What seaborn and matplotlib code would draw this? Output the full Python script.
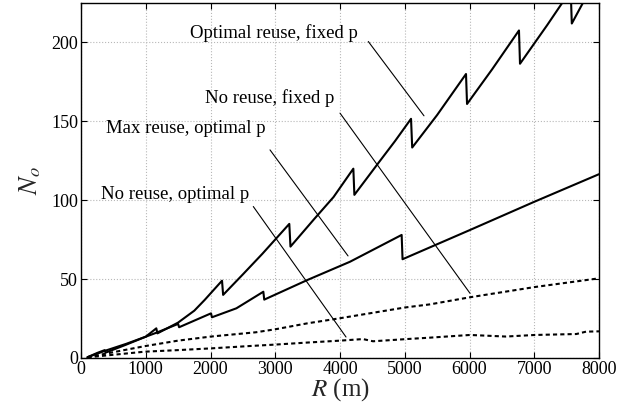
import numpy as np
import pandas as pd
import matplotlib
matplotlib.use("Agg")
import matplotlib.pyplot as plt
import seaborn as sns

# ---- data ----
r_opt_fixed = [100, 250, 366, 380, 700, 1000, 1163, 1180, 1498, 1750, 1910, 2178, 2195,
               2500, 2800, 3217, 3235, 3600, 3900, 4206, 4222, 4600, 4850, 5097, 5115,
               5500, 5946, 5962, 6350, 6764, 6780, 7200, 7563, 7580, 8000]
n_opt_fixed = [0.5, 3.2, 5.0, 3.4, 8.5, 13.5, 18.8, 15.6, 22.4, 30, 36.8, 49, 40,
               53, 66, 85, 70.6, 88, 102, 120, 103.4, 124, 137.5, 151.6, 133.4,
               154, 180, 161, 183, 207.6, 186.5, 211, 233, 212, 244]

r_max_opt = [100, 366, 700, 1000, 1163, 1500, 1515, 2008, 2022, 2400, 2816, 2830,
             3500, 4154, 4952, 4966, 6000, 7000, 8000]
n_max_opt = [0.5, 4.5, 9, 13.5, 16, 21.6, 19.5, 28.3, 25.8, 31.5, 42, 37,
             49.5, 61, 78, 62.6, 81, 99, 116.5]

r_no_fixed = [100, 463, 983, 1498, 2008, 2700, 3000, 3500, 4000, 5000, 5390, 6008, 7012, 8000]
n_no_fixed = [0.5, 3.4, 7.5, 11.0, 13.6, 16.3, 18.2, 22, 25.2, 32, 34, 38.5, 45, 50.5]

r_no_opt = [100, 463, 983, 1498, 2008, 2610, 3000, 3500, 4000, 4355, 4510, 5030, 5390,
            6008, 6560, 7012, 7650, 7800, 8000]
n_no_opt = [0.4, 1.9, 4.0, 5.0, 6.1, 7.6, 8.5, 9.8, 11.0, 12.0, 10.6, 12.0, 12.9,
            14.6, 13.6, 14.6, 15.2, 16.7, 16.9]

labels = ["Optimal reuse, fixed p", "No reuse, fixed p",
          "Max reuse, optimal p", "No reuse, optimal p"]
xticks = [0, 1000, 2000, 3000, 4000, 5000, 6000, 7000, 8000]
yticks = [0, 50, 100, 150, 200]

# ---- style ----
sns.set_theme(style="ticks")
plt.rcParams["font.family"] = ["Liberation Serif", "DejaVu Serif"]
plt.rcParams["mathtext.fontset"] = "stix"

fig = plt.figure(figsize=(6.34, 4.09), dpi=100)
ax = fig.add_axes([81 / 634, 1 - 358 / 409, 518 / 634, 355 / 409])

lw = 1.5
for r, n in [(r_opt_fixed, n_opt_fixed), (r_max_opt, n_max_opt)]:
    df = pd.DataFrame({"R": r, "N": n})
    sns.lineplot(data=df, x="R", y="N", ax=ax, color="black", lw=lw,
                 estimator=None, sort=False)
for r, n in [(r_no_fixed, n_no_fixed), (r_no_opt, n_no_opt)]:
    df = pd.DataFrame({"R": r, "N": n})
    sns.lineplot(data=df, x="R", y="N", ax=ax, color="black", lw=lw,
                 estimator=None, sort=False)
    ax.lines[-1].set_dashes((2.0, 1.5))

ax.set_xlim(0, 8000)
ax.set_ylim(0, 225)
ax.set_xticks(xticks)
ax.set_yticks(yticks)
ax.grid(True, linestyle=":", color="#b8b8b8", linewidth=0.8)
ax.set_axisbelow(True)
ax.tick_params(direction="in", length=4, width=0.8, top=True, right=True,
               labelsize=13, colors="black", pad=2)
for s in ax.spines.values():
    s.set_linewidth(1.0)
    s.set_color("black")

ax.set_xlabel("$R$ (m)", fontsize=18, labelpad=-1)
ax.set_ylabel("$N_o$", fontsize=19, labelpad=6)

# ---- annotations ----
text_pos = [(2981, 202.8), (2907, 161.6), (1619, 142.9), (1452, 100.7)]
line_start = [(4437, 200.6), (4000, 155.2), (2919, 131.9), (2661, 96)]
line_end = [(5297, 153.5), (6008, 41), (4124, 64.7), (4093, 13.3)]
for lab, tp, ls_, le in zip(labels, text_pos, line_start, line_end):
    ax.text(tp[0], tp[1], lab, ha="center", va="baseline", fontsize=13.5, color="black")
    ax.annotate("", xy=le, xytext=ls_,
                arrowprops=dict(arrowstyle="-", lw=0.8, color="black",
                                shrinkA=0, shrinkB=0))

fig.savefig("out.png", dpi=100, facecolor="white")
